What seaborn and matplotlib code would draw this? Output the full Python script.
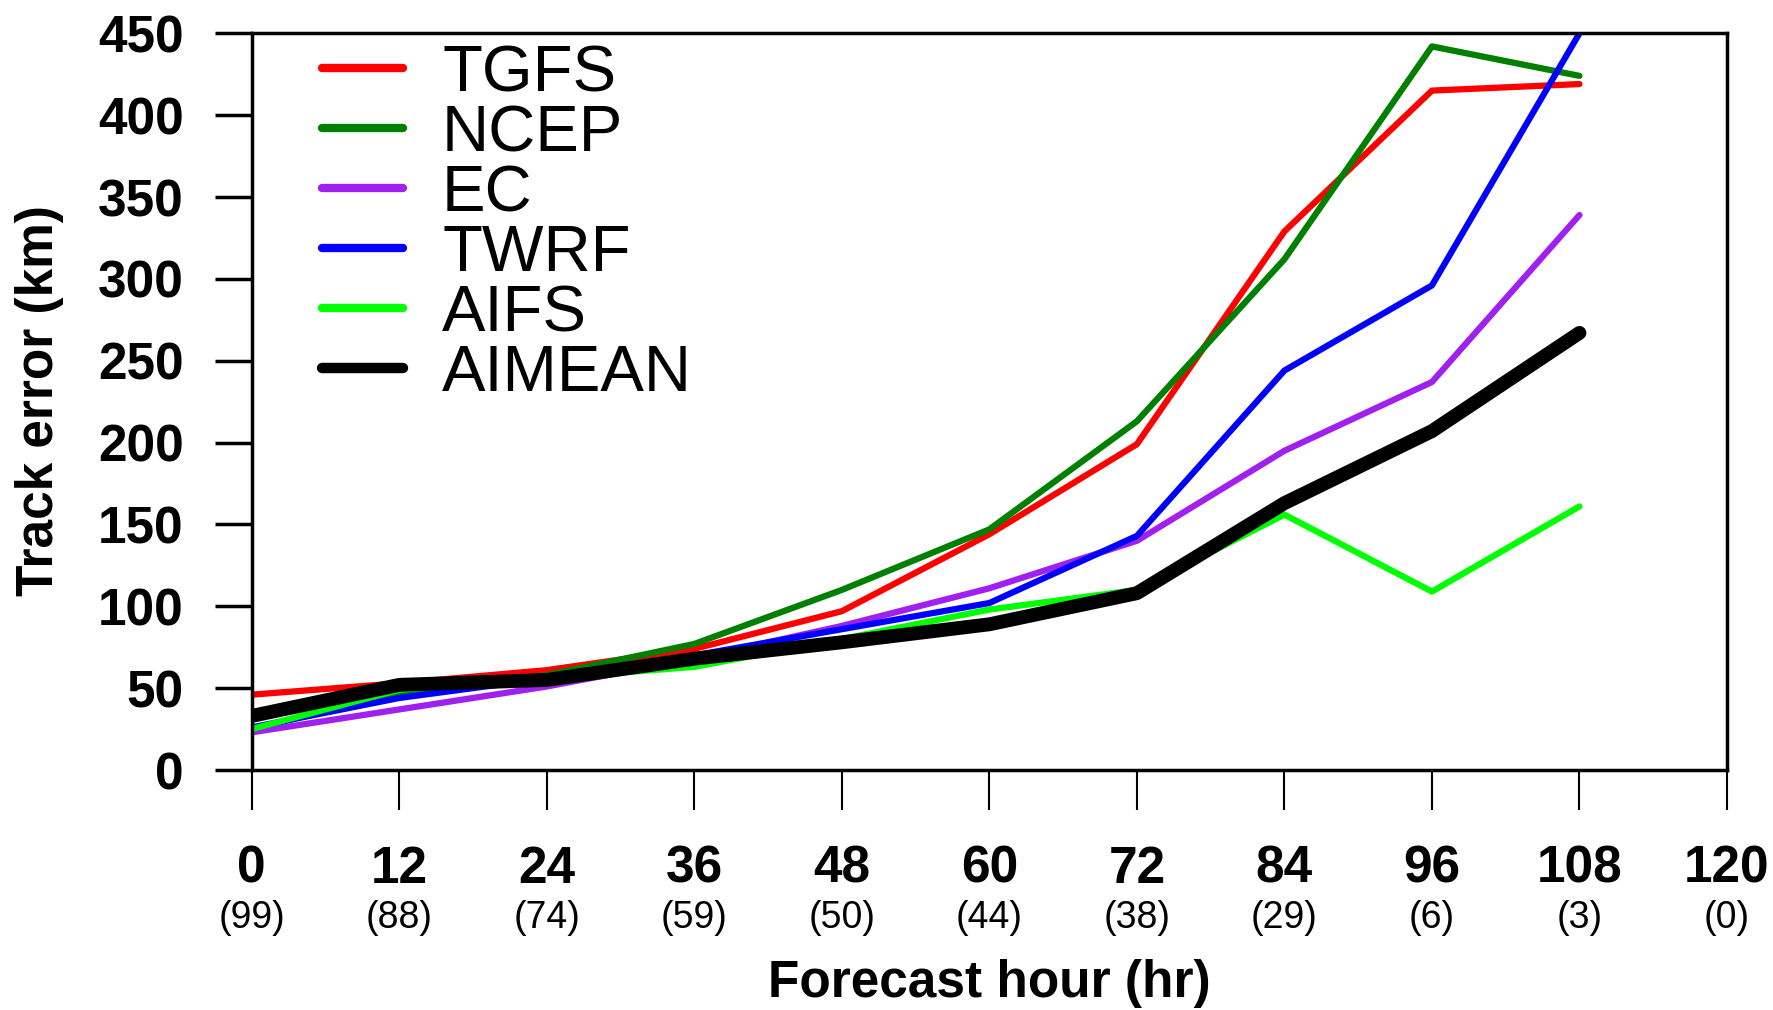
import numpy as np
import pandas as pd
import seaborn as sns
import matplotlib
matplotlib.use("Agg")
import matplotlib.pyplot as plt
import matplotlib.transforms as mtransforms

# forecast hours and sample counts
hours = [0, 12, 24, 36, 48, 60, 72, 84, 96, 108]
tick_hours = [0, 12, 24, 36, 48, 60, 72, 84, 96, 108, 120]
case_counts = [99, 88, 74, 59, 50, 44, 38, 29, 6, 3, 0]

# track error (km)
tgfs = [46, 53, 61, 74, 97, 144, 199, 329, 415, 419]
ncep = [25, 47, 58, 77, 110, 147, 213, 312, 442, 424]
ec = [23, 37, 51, 68, 88, 111, 140, 195, 237, 339]
twrf = [26, 44, 56, 70, 86, 102, 143, 244, 296, 450]
aifs = [25, 49, 56, 63, 80, 98, 110, 156, 109, 161]
aimean = [33, 52, 55, 68, 78, 89, 108, 163, 207, 267]

models = ["TGFS", "NCEP", "EC", "TWRF", "AIFS", "AIMEAN"]
colors = ["#FF0000", "#008000", "#A020F0", "#0000FF", "#00FF00", "#000000"]
widths = [4.5, 4.5, 4.5, 4.5, 4.5, 10]

df = pd.DataFrame({"hour": hours, "TGFS": tgfs, "NCEP": ncep, "EC": ec,
                   "TWRF": twrf, "AIFS": aifs, "AIMEAN": aimean})
long = df.melt(id_vars="hour", var_name="model", value_name="error")

sns.set_style("white")
plt.rcParams["font.family"] = ["Liberation Sans", "DejaVu Sans"]
plt.rcParams.update({"text.color": "black", "xtick.color": "black",
                     "ytick.color": "black", "axes.labelcolor": "black",
                     "axes.edgecolor": "black"})

W, H = 1773, 1010
fig = plt.figure(figsize=(W / 100, H / 100), dpi=100)
ax = fig.add_axes([251.7 / W, 1 - 770 / H, (1727 - 251.7) / W, (770 - 33.3) / H])

for m, c, lw in zip(models, colors, widths):
    sns.lineplot(data=long[long.model == m], x="hour", y="error", color=c,
                 linewidth=lw, ax=ax, label=m, solid_capstyle="round",
                 solid_joinstyle="round")

ax.set_xlim(0, 120)
ax.set_ylim(0, 450)
ax.set_xticks(tick_hours)
ax.set_xticklabels([str(h) for h in tick_hours], fontsize=37, fontweight="bold")
ax.set_yticks(np.arange(0, 451, 50))
ax.set_yticklabels([str(v) for v in range(0, 451, 50)], fontsize=37, fontweight="bold")
ax.tick_params(axis="x", direction="out", length=28.8, width=1.5, pad=25,
               bottom=True, top=False)
ax.tick_params(axis="y", direction="out", length=27, width=2.5, pad=22,
               left=True, right=False)
for s in ax.spines.values():
    s.set_linewidth(2.5)
    s.set_color("black")
ax.set_xlabel("")
ax.set_ylabel("")

# sample counts under the hour labels
trans = mtransforms.blended_transform_factory(ax.transData, ax.transAxes)
for h, n in zip(tick_hours, case_counts):
    ax.annotate(f"({n})", xy=(h, 0), xycoords=trans, xytext=(0, -106.5),
                textcoords="offset points", ha="center", va="center",
                fontsize=27, annotation_clip=False)

fig.text(989 / W, 1 - 983 / H, "Forecast hour (hr)", ha="center", va="center",
         fontsize=37, fontweight="bold")
fig.text(40 / W, 1 - 401 / H, "Track error (km)", ha="center", va="center",
         rotation=90, fontsize=37, fontweight="bold")

leg = ax.legend(loc="upper left", bbox_to_anchor=(322 / W, 1 - 44 / H),
                bbox_transform=fig.transFigure, frameon=False, fontsize=47,
                handlelength=1.24, handletextpad=0.6, labelspacing=0.0,
                borderpad=0, borderaxespad=0)
for line, lw in zip(leg.get_lines(), widths):
    line.set_linewidth(6 if lw < 8 else 7.5)
    line.set_solid_capstyle("round")

fig.savefig("out.png", dpi=100)
